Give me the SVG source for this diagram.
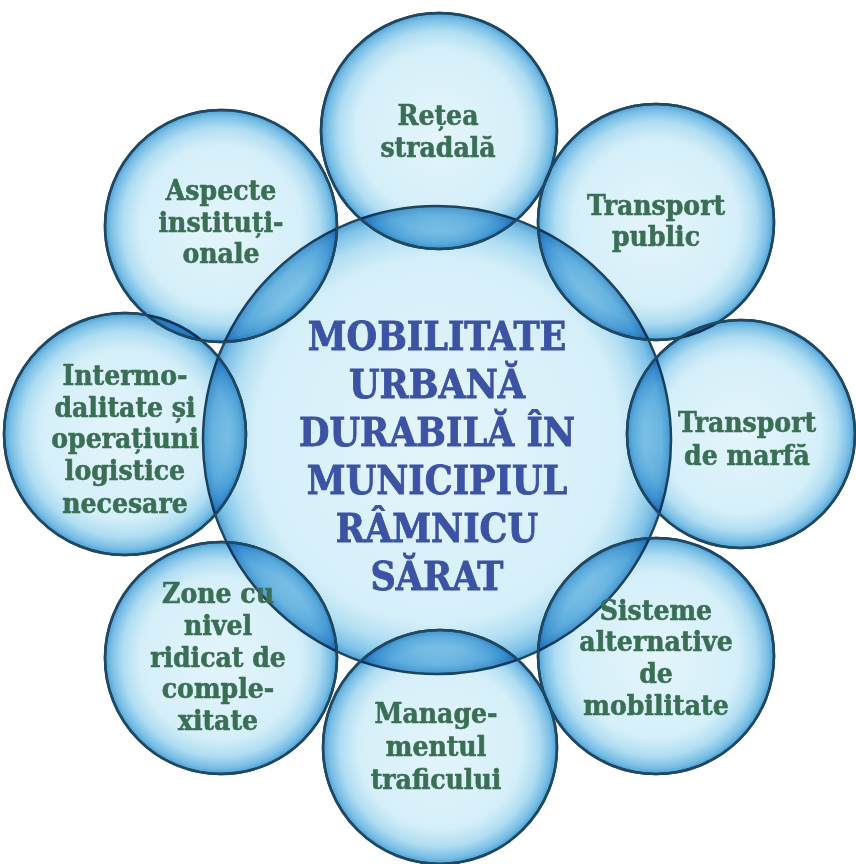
<svg xmlns="http://www.w3.org/2000/svg" width="856" height="864" viewBox="0 0 856 864">
<defs>
<radialGradient id="g" cx="0.5" cy="0.5" r="0.5">
<stop offset="0" stop-color="#e4f5fb"/>
<stop offset="0.7" stop-color="#d5eff9"/>
<stop offset="0.85" stop-color="#b0ddf2"/>
<stop offset="0.95" stop-color="#78bee6"/>
<stop offset="1" stop-color="#4f9fd4"/>
</radialGradient>
<radialGradient id="gc" cx="0.5" cy="0.5" r="0.5">
<stop offset="0" stop-color="#e4f5fb"/>
<stop offset="0.78" stop-color="#d5eff9"/>
<stop offset="0.88" stop-color="#b3dff3"/>
<stop offset="0.96" stop-color="#7ec2e8"/>
<stop offset="1" stop-color="#529fd3"/>
</radialGradient>
<clipPath id="k-top"><circle cx="439" cy="131" r="118"/></clipPath>
<clipPath id="k-tr"><circle cx="656" cy="222" r="118"/></clipPath>
<clipPath id="k-r"><circle cx="741" cy="434" r="114"/></clipPath>
<clipPath id="k-br"><circle cx="656" cy="656" r="118"/></clipPath>
<clipPath id="k-b"><circle cx="440" cy="747" r="117"/></clipPath>
<clipPath id="k-bl"><circle cx="221" cy="658" r="116"/></clipPath>
<clipPath id="k-l"><circle cx="125" cy="434" r="121"/></clipPath>
<clipPath id="k-tl"><circle cx="221" cy="226" r="116"/></clipPath>
</defs>
<style>
.disc{fill:url(#g);stroke:#1f4862;stroke-width:2.5}
.cdisc{fill:url(#gc);stroke:#1f4862;stroke-width:2.5}
.lens{fill:url(#g);stroke:#1f4862;stroke-width:2.5;mix-blend-mode:multiply}
.clens{fill:url(#gc);stroke:#1f4862;stroke-width:2.5;mix-blend-mode:multiply}
.rim{fill:none;stroke:#1f4862;stroke-width:2.5}
.sat{font-family:"DejaVu Serif Condensed","DejaVu Serif","Liberation Serif",serif;font-stretch:condensed;font-weight:bold;font-size:28px;fill:#3b6f55;stroke:#3b6f55;stroke-width:0.6;text-anchor:middle}
.ctr{font-family:"DejaVu Serif Condensed","DejaVu Serif","Liberation Serif",serif;font-stretch:condensed;font-weight:bold;font-size:39px;fill:#3c52a3;stroke:#3c52a3;stroke-width:0.8;text-anchor:middle}
</style>
<rect width="856" height="864" fill="#ffffff"/>
<g id="node-center">
<circle class="cdisc" cx="437" cy="440" r="234"/>
<text class="ctr" x="437" y="350">MOBILITATE</text>
<text class="ctr" x="437" y="398">URBANĂ</text>
<text class="ctr" x="437" y="446">DURABILĂ ÎN</text>
<text class="ctr" x="437" y="494">MUNICIPIUL</text>
<text class="ctr" x="437" y="542">RÂMNICU</text>
<text class="ctr" x="437" y="590">SĂRAT</text>
</g>
<g id="connectors"></g>
<g id="node-retea">
<circle class="disc" cx="439" cy="131" r="118"/>
<circle class="clens" cx="437" cy="440" r="234" clip-path="url(#k-top)"/>
<circle class="rim" cx="439" cy="131" r="118"/>
<text class="sat" x="438" y="125">Rețea</text>
<text class="sat" x="438" y="157">stradală</text>
</g>
<g id="node-transport-public">
<circle class="disc" cx="656" cy="222" r="118"/>
<circle class="clens" cx="437" cy="440" r="234" clip-path="url(#k-tr)"/>
<circle class="lens" cx="439" cy="131" r="118" clip-path="url(#k-tr)"/>
<circle class="rim" cx="656" cy="222" r="118"/>
<text class="sat" x="656" y="215">Transport</text>
<text class="sat" x="656" y="246">public</text>
</g>
<g id="node-transport-marfa">
<circle class="disc" cx="741" cy="434" r="114"/>
<circle class="clens" cx="437" cy="440" r="234" clip-path="url(#k-r)"/>
<circle class="lens" cx="656" cy="222" r="118" clip-path="url(#k-r)"/>
<circle class="rim" cx="741" cy="434" r="114"/>
<text class="sat" x="747" y="432">Transport</text>
<text class="sat" x="747" y="465">de marfă</text>
</g>
<g id="node-sisteme">
<circle class="disc" cx="656" cy="656" r="118"/>
<circle class="clens" cx="437" cy="440" r="234" clip-path="url(#k-br)"/>
<circle class="lens" cx="741" cy="434" r="114" clip-path="url(#k-br)"/>
<circle class="rim" cx="656" cy="656" r="118"/>
<text class="sat" x="656" y="620">Sisteme</text>
<text class="sat" x="656" y="651">alternative</text>
<text class="sat" x="656" y="683">de</text>
<text class="sat" x="656" y="715">mobilitate</text>
</g>
<g id="node-management">
<circle class="disc" cx="440" cy="747" r="117"/>
<circle class="clens" cx="437" cy="440" r="234" clip-path="url(#k-b)"/>
<circle class="lens" cx="656" cy="656" r="118" clip-path="url(#k-b)"/>
<circle class="rim" cx="440" cy="747" r="117"/>
<text class="sat" x="436" y="723">Manage-</text>
<text class="sat" x="436" y="756">mentul</text>
<text class="sat" x="436" y="789">traficului</text>
</g>
<g id="node-zone">
<circle class="disc" cx="221" cy="658" r="116"/>
<circle class="clens" cx="437" cy="440" r="234" clip-path="url(#k-bl)"/>
<circle class="lens" cx="440" cy="747" r="117" clip-path="url(#k-bl)"/>
<circle class="rim" cx="221" cy="658" r="116"/>
<text class="sat" x="218" y="603">Zone cu</text>
<text class="sat" x="218" y="635">nivel</text>
<text class="sat" x="218" y="667">ridicat de</text>
<text class="sat" x="218" y="698">comple-</text>
<text class="sat" x="218" y="730">xitate</text>
</g>
<g id="node-intermodalitate">
<circle class="disc" cx="125" cy="434" r="121"/>
<circle class="clens" cx="437" cy="440" r="234" clip-path="url(#k-l)"/>
<circle class="lens" cx="221" cy="658" r="116" clip-path="url(#k-l)"/>
<circle class="rim" cx="125" cy="434" r="121"/>
<text class="sat" x="125" y="385">Intermo-</text>
<text class="sat" x="125" y="417">dalitate și</text>
<text class="sat" x="125" y="448">operațiuni</text>
<text class="sat" x="125" y="480">logistice</text>
<text class="sat" x="125" y="513">necesare</text>
</g>
<g id="node-aspecte">
<circle class="disc" cx="221" cy="226" r="116"/>
<circle class="clens" cx="437" cy="440" r="234" clip-path="url(#k-tl)"/>
<circle class="lens" cx="125" cy="434" r="121" clip-path="url(#k-tl)"/>
<circle class="lens" cx="439" cy="131" r="118" clip-path="url(#k-tl)"/>
<circle class="rim" cx="221" cy="226" r="116"/>
<text class="sat" x="221" y="200">Aspecte</text>
<text class="sat" x="221" y="232">instituți-</text>
<text class="sat" x="221" y="263">onale</text>
</g>
</svg>
